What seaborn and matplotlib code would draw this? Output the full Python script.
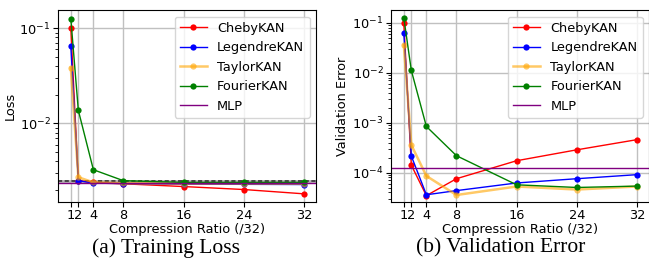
import matplotlib
matplotlib.use("Agg")
import matplotlib.pyplot as plt
import pandas as pd
import seaborn as sns

## data
ratios = [1, 2, 4, 8, 16, 24, 32]
models = ["ChebyKAN", "LegendreKAN", "TaylorKAN", "FourierKAN"]
colors = {"ChebyKAN": "red", "LegendreKAN": "blue", "TaylorKAN": "orange", "FourierKAN": "green"}

train_cheby = [0.100, 0.0025, 0.0024, 0.00232, 0.00217, 0.00202, 0.00182]
train_legendre = [0.065, 0.0025, 0.00236, 0.00233, 0.00230, 0.00229, 0.00228]
train_taylor = [0.0385, 0.00272, 0.0024, 0.00235, 0.00233, 0.00233, 0.00232]
train_fourier = [0.126, 0.0137, 0.00326, 0.0025, 0.0024, 0.0024, 0.0024]
train_mlp = 0.00238
train_ref = 0.00247

val_cheby = [0.098, 1.41e-4, 3.46e-5, 7.55e-5, 1.73e-4, 2.86e-4, 4.57e-4]
val_legendre = [0.063, 2.15e-4, 3.6e-5, 4.36e-5, 6.2e-5, 7.55e-5, 9.1e-5]
val_taylor = [0.036, 3.57e-4, 8.57e-5, 3.56e-5, 5.27e-5, 4.58e-5, 5.27e-5]
val_fourier = [0.126, 0.0111, 8.4e-4, 2.18e-4, 5.7e-5, 5.04e-5, 5.37e-5]
val_mlp = 1.26e-4

train = {"ChebyKAN": train_cheby, "LegendreKAN": train_legendre,
         "TaylorKAN": train_taylor, "FourierKAN": train_fourier}
val = {"ChebyKAN": val_cheby, "LegendreKAN": val_legendre,
       "TaylorKAN": val_taylor, "FourierKAN": val_fourier}

plt.rcParams["font.family"] = "DejaVu Sans"
plt.rcParams["font.size"] = 9.3

fig = plt.figure(figsize=(6.49, 2.72), dpi=100)
ax_l = fig.add_axes([0.0894, 0.258, 0.3975, 0.705])
ax_r = fig.add_axes([0.6025, 0.258, 0.3975, 0.705])


def plot_panel(ax, series, mlp, ylabel, ylim):
    for m in models:
        df = pd.DataFrame({"ratio": ratios, "value": series[m]})
        kw = dict(lw=1, alpha=1.0)
        if m == "TaylorKAN":
            kw = dict(lw=1.8, alpha=0.6)
        sns.lineplot(ax=ax, data=df, x="ratio", y="value", color=colors[m],
                     marker="o", markersize=4.5, markeredgewidth=0, label=m, **kw)
    ax.axhline(mlp, color="purple", lw=1, label="MLP")
    ax.set_yscale("log")
    ax.set_ylim(*ylim)
    ax.set_xlim(-0.7, 33.6)
    ax.set_xticks(ratios)
    ax.set_xticklabels([str(r) for r in ratios])
    ax.grid(True, which="major", color="#c0c0c0", lw=1)
    ax.set_xlabel("Compression Ratio (/32)", labelpad=1)
    ax.set_ylabel(ylabel, labelpad=2)
    ax.tick_params(axis="x", pad=1.5)
    ax.tick_params(axis="y", pad=2)
    ax.legend(loc="upper right", fontsize=9.3, handlelength=2.1)


plot_panel(ax_l, train, train_mlp, "Loss", (0.0015, 0.155))
ax_l.axhline(train_ref, color="gray", lw=2, alpha=0.6, zorder=1.5)
ax_l.axhline(train_ref, color="#333333", lw=1.2, ls="--", dashes=(2.5, 1.5), zorder=1.6)
plot_panel(ax_r, val, val_mlp, "Validation Error", (2.6e-5, 0.18))

fig.text(0.256, 0.088, "(a) Training Loss", family="Liberation Serif",
         fontsize=15.5, ha="center", va="center")
fig.text(0.772, 0.088, "(b) Validation Error", family="Liberation Serif",
         fontsize=15.5, ha="center", va="center")

fig.savefig("out.png", dpi=100)
